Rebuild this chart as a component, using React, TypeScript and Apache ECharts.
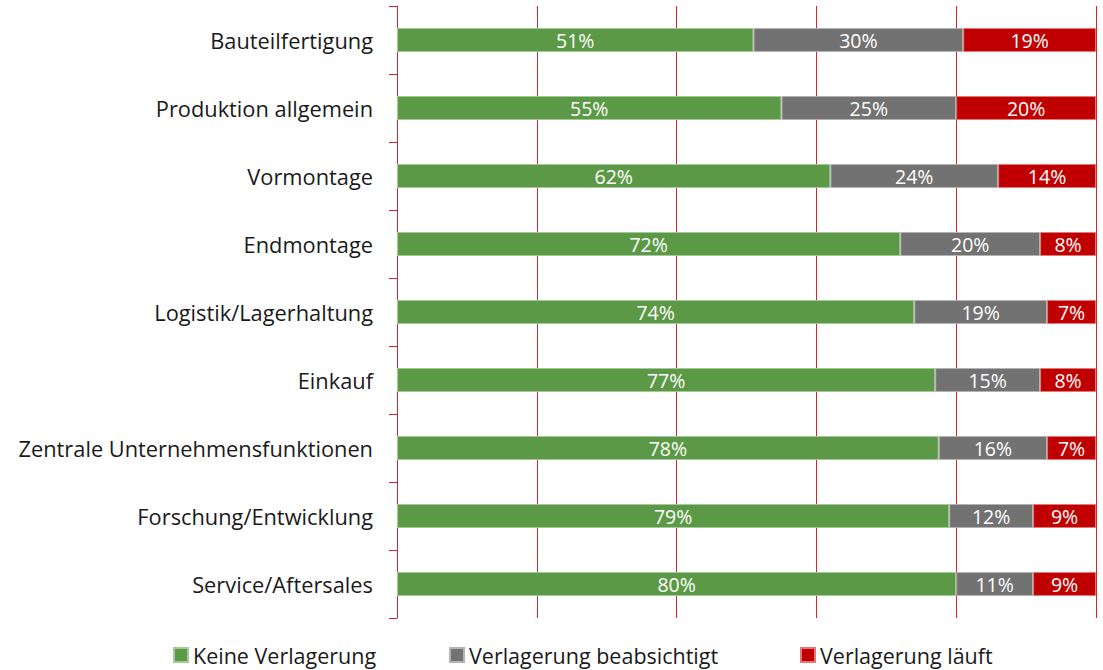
import React, { useEffect, useRef } from "react";
import * as echarts from "echarts";

const categories = [
  "Bauteilfertigung",
  "Produktion allgemein",
  "Vormontage",
  "Endmontage",
  "Logistik/Lagerhaltung",
  "Einkauf",
  "Zentrale Unternehmensfunktionen",
  "Forschung/Entwicklung",
  "Service/Aftersales",
];
const keineVerlagerung = [51, 55, 62, 72, 74, 77, 77.5, 79, 80];
const beabsichtigt = [30, 25, 24, 20, 19, 15, 15.5, 12, 11];
const laeuft = [19, 20, 14, 8, 7, 8, 7, 9, 9];
const seriesNames = ["Keine Verlagerung", "Verlagerung beabsichtigt", "Verlagerung läuft"];
const xTicks = [0, 20, 40, 60, 80, 100];

const FONT = "'Open Sans', 'Noto Sans', sans-serif";
const RED_LINE = "#d3262b";

export default function App() {
  const ref = useRef<HTMLDivElement>(null);
  useEffect(() => {
    if (!ref.current) return;
    const chart = echarts.init(ref.current, undefined, { renderer: "svg" });
    const mk = (name: string, data: number[], color: string, border: string) => ({
      name,
      type: "bar",
      stack: "total",
      data,
      barWidth: 24,
      itemStyle: { color, borderColor: border, borderWidth: 1 },
      label: {
        show: true,
        position: "inside",
        color: "#ffffff",
        fontFamily: FONT,
        fontSize: 19.5,
        formatter: (p: any) => Math.round(p.value) + "%",
      },
    });
    const legendBase = {
      bottom: -1,
      icon: "rect",
      itemWidth: 14,
      itemHeight: 14,
      itemGap: 8,
      textStyle: { fontFamily: FONT, fontSize: 21.5, color: "#1a1a1a" },
    };
    chart.setOption({
      animation: false,
      grid: { left: 397, right: 7, top: 6, bottom: 52, containLabel: false },
      legend: [
        { ...legendBase, left: 168, data: [seriesNames[0]] },
        { ...legendBase, left: 444, data: [seriesNames[1]] },
        { ...legendBase, left: 795, data: [seriesNames[2]] },
      ],
      xAxis: {
        type: "value",
        min: xTicks[0],
        max: xTicks[xTicks.length - 1],
        interval: 20,
        axisLine: { show: false },
        axisTick: { show: false },
        axisLabel: { show: false },
        splitLine: { show: true, lineStyle: { color: RED_LINE, width: 1 } },
      },
      yAxis: {
        type: "category",
        data: categories,
        inverse: true,
        axisLine: { show: true, lineStyle: { color: RED_LINE, width: 1 } },
        axisTick: { show: true, length: 8, lineStyle: { color: RED_LINE } },
        axisLabel: {
          margin: 24,
          fontFamily: FONT,
          fontSize: 21.8,
          color: "#1a1a1a",
        },
      },
      series: [
        mk(seriesNames[0], keineVerlagerung, "#5b9946", "#a6c99a"),
        mk(seriesNames[1], beabsichtigt, "#727272", "#b3b3b3"),
        mk(seriesNames[2], laeuft, "#c00000", "#e07a7a"),
      ],
    });
    return () => chart.dispose();
  }, []);
  return <div ref={ref} style={{ width: 1103, height: 670, position: "absolute", left: 0, top: 0 }} />;
}
